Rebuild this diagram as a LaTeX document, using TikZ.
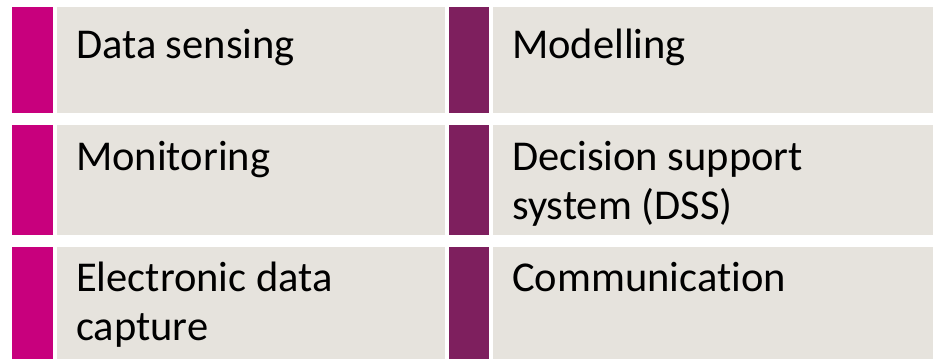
\documentclass[tikz,border=0pt]{standalone}
\usepackage{fontspec}
\setmainfont{Carlito}[Ligatures=NoCommon]
\definecolor{barmagenta}{RGB}{200,0,125}
\definecolor{barplum}{RGB}{126,31,94}
\definecolor{cellgray}{RGB}{230,227,221}
\begin{document}
\begin{tikzpicture}[
      x=1pt, y=-1pt,
      bar/.style={fill=#1, draw=none, anchor=north west, inner sep=0pt, outer sep=0pt},
      cell/.style={fill=cellgray, draw=none, anchor=north west, inner sep=0pt, outer sep=0pt},
      celltext/.style={anchor=base west, inner sep=0pt, align=left, font=\fontsize{42.5}{49}\selectfont}
      ]
      \useasboundingbox (0,0) rectangle (933,359);
      \foreach \r/\top/\h in {1/7/106, 2/125/110, 3/247/112} {
        \node[bar=barmagenta, minimum width=41pt, minimum height=\h pt] (lbar\r) at (12,\top) {};
        \node[cell, minimum width=388pt, minimum height=\h pt] (lbox\r) at (57,\top) {};
        \node[bar=barplum, minimum width=40pt, minimum height=\h pt] (rbar\r) at (449,\top) {};
        \node[cell, minimum width=440pt, minimum height=\h pt] (rbox\r) at (493,\top) {};
      }
      % base of a two-line node sits on its second line
      \node[celltext] (sensing) at ([shift={(19pt,-51pt)}]lbox1.north west) {Data sensing};
      \node[celltext] (modelling) at ([shift={(19pt,-51pt)}]rbox1.north west) {Modelling};
      \node[celltext] (monitoring) at ([shift={(19pt,-45pt)}]lbox2.north west) {Monitoring};
      \node[celltext] (dss) at ([shift={(19pt,-94pt)}]rbox2.north west) {Decision support\\system (DSS)};
      \node[celltext] (capture) at ([shift={(19pt,-93pt)}]lbox3.north west) {Electronic data\\capture};
      \node[celltext] (communication) at ([shift={(19pt,-44pt)}]rbox3.north west) {Communication};
    \end{tikzpicture}
\end{document}
